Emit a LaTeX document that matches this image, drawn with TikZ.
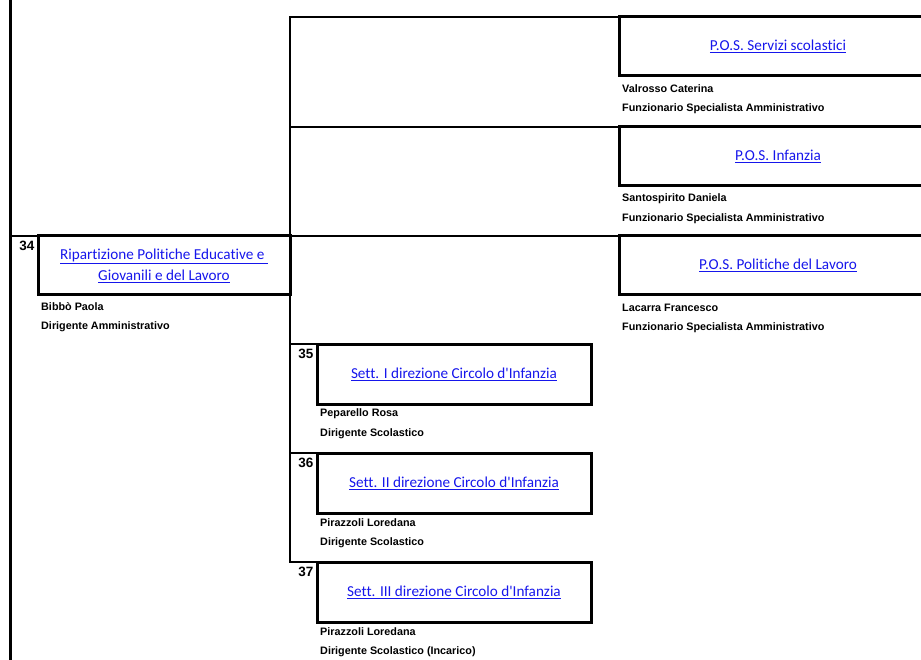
\documentclass[tikz,border=0pt]{standalone}
\usepackage{fontspec}
\setmainfont{Liberation Sans}
\newfontfamily\linkfont[Ligatures={NoCommon,NoRequired,NoContextual,NoDiscretionary}]{Carlito}
\usetikzlibrary{calc}
\definecolor{linkblue}{RGB}{22,22,235}
\begin{document}
\begin{tikzpicture}[x=1pt,y=-1pt,
  unitbox/.style={draw, line width=3pt, inner sep=0pt, outer sep=0pt, align=center,
    text=linkblue, font=\linkfont\fontsize{15.2}{21}\selectfont},
  rule/.style={line width=2.2pt, line cap=rect},
  lbl/.style={anchor=west, inner sep=0pt, font=\bfseries\fontsize{10.8}{12}\selectfont},
  num/.style={anchor=north east, inner sep=0pt, font=\bfseries\fontsize{13.5}{14}\selectfont}]
\useasboundingbox (0,0) rectangle (921,660);

% boxes
\node[unitbox, minimum width=252pt, minimum height=59pt] (b34) at (164,265.5)
  {\underline{Ripartizione Politiche Educative e\ }\\\underline{Giovanili e del Lavoro}};
\node[unitbox, minimum width=318pt, minimum height=59pt] (p1) at (778,46.5)
  {\underline{P.O.S. Servizi scolastici}};
\node[unitbox, minimum width=318pt, minimum height=59pt] (p2) at (778,156.5)
  {\underline{P.O.S. Infanzia}};
\node[unitbox, minimum width=318pt, minimum height=59pt] (p3) at (778,265.5)
  {\underline{P.O.S. Politiche del Lavoro}};
\node[unitbox, minimum width=274pt, minimum height=60pt] (b35) at (454,374)
  {\underline{Sett. I direzione Circolo d'Infanzia}};
\node[unitbox, minimum width=274pt, minimum height=60pt] (b36) at (454,483)
  {\underline{Sett. II direzione Circolo d'Infanzia}};
\node[unitbox, minimum width=274pt, minimum height=60pt] (b37) at (454,592)
  {\underline{Sett. III direzione Circolo d'Infanzia}};

% numbers
\node[num] (n34) at ($(b34.north west)+(-3.5,5)$) {34};
\node[num] (n35) at ($(b35.north west)+(-3.5,5)$) {35};
\node[num] (n36) at ($(b36.north west)+(-3.5,5)$) {36};
\node[num] (n37) at ($(b37.north west)+(-3.5,5)$) {37};

% names / roles
\node[lbl] (l34a) at ($(b34.south west)+(3,11.5)$) {Bibbò Paola};
\node[lbl] (l34b) at ($(b34.south west)+(3,31.5)$) {Dirigente Amministrativo};
\node[lbl] (lp1a) at ($(p1.south west)+(3,13)$) {Valrosso Caterina};
\node[lbl] (lp1b) at ($(p1.south west)+(3,33)$) {Funzionario Specialista Amministrativo};
\node[lbl] (lp2a) at ($(p2.south west)+(3,12.5)$) {Santospirito Daniela};
\node[lbl] (lp2b) at ($(p2.south west)+(3,32.5)$) {Funzionario Specialista Amministrativo};
\node[lbl] (lp3a) at ($(p3.south west)+(3,12.5)$) {Lacarra Francesco};
\node[lbl] (lp3b) at ($(p3.south west)+(3,32.5)$) {Funzionario Specialista Amministrativo};
\node[lbl] (l35a) at ($(b35.south west)+(3,10)$) {Peparello Rosa};
\node[lbl] (l35b) at ($(b35.south west)+(3,30)$) {Dirigente Scolastico};
\node[lbl] (l36a) at ($(b36.south west)+(3,10)$) {Pirazzoli Loredana};
\node[lbl] (l36b) at ($(b36.south west)+(3,30)$) {Dirigente Scolastico};
\node[lbl] (l37a) at ($(b37.south west)+(3,10)$) {Pirazzoli Loredana};
\node[lbl] (l37b) at ($(b37.south west)+(3,30)$) {Dirigente Scolastico (Incarico)};

% connectors
\coordinate (ltop) at (10.5,-2);
\coordinate (lbot) at (10.5,662);
\coordinate (l34) at (10.5,236);
\coordinate (ttop) at (290,17);
\coordinate (tbot) at (290,562);
\draw[rule] (ltop) -- (lbot);
\draw[rule] (l34) -- (b34.north west);
\draw[rule] (ttop) -- (tbot);
\draw[rule] (ttop) -- (p1.north west);
\draw[rule] (ttop |- p2.north west) -- (p2.north west);
\draw[rule] (ttop |- p3.north west) -- (p3.north west);
\draw[rule] (ttop |- b35.north west) -- (b35.north west);
\draw[rule] (ttop |- b36.north west) -- (b36.north west);
\draw[rule] (tbot) -- (b37.north west);
\end{tikzpicture}
\end{document}
